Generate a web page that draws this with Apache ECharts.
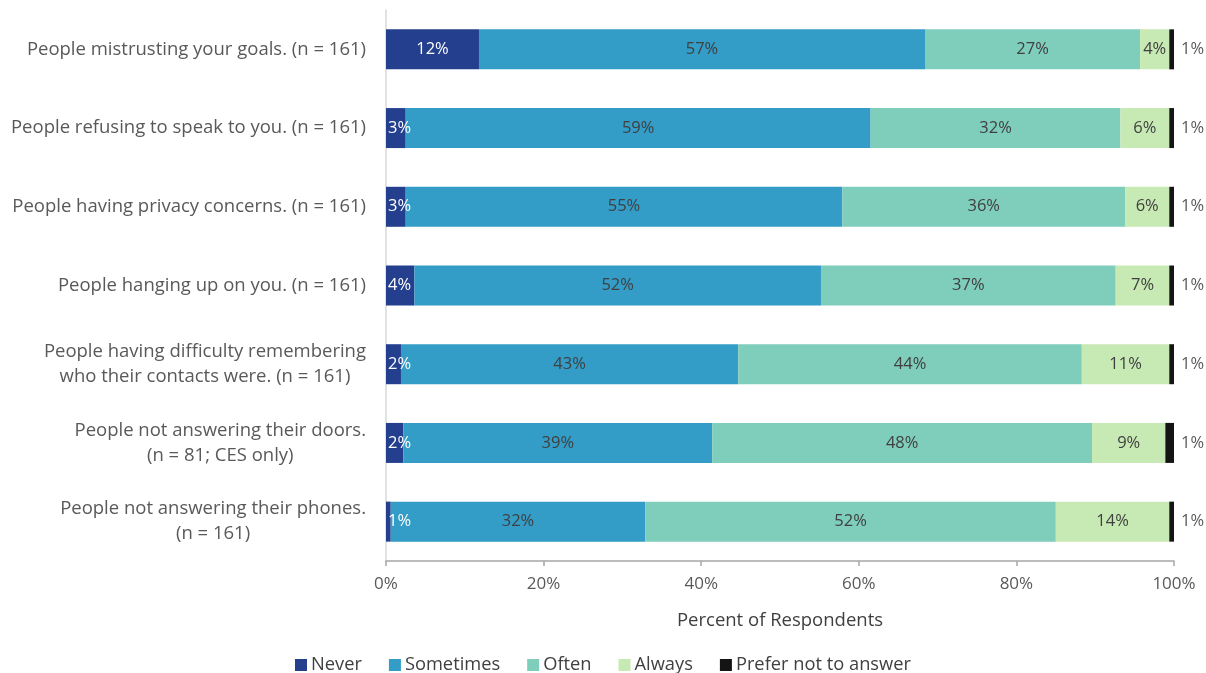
<!DOCTYPE html>
<html>
<head>
<meta charset="utf-8">
<title>Contact difficulties</title>
<script src="https://cdn.jsdelivr.net/npm/echarts@6/dist/echarts.min.js"></script>
<style>
  html, body { margin: 0; padding: 0; background: #ffffff; }
  #chart { width: 1206px; height: 673px; }
</style>
</head>
<body>
<div id="chart"></div>
<script>
// Survey items, top to bottom
const categories = [
  'People mistrusting your goals. (n = 161)',
  'People refusing to speak to you. (n = 161)',
  'People having privacy concerns. (n = 161)',
  'People hanging up on you. (n = 161)',
  'People having difficulty remembering\nwho their contacts were. (n = 161)',
  'People not answering their doors.\n(n = 81; CES only)',
  'People not answering their phones.\n(n = 161)'
];

// Percent of respondents per response option
const never     = [11.8, 2.5, 2.5, 3.6, 1.9, 2.2, 0.6];
const sometimes = [56.6, 59.0, 55.4, 51.6, 42.8, 39.2, 32.3];
const often     = [27.3, 31.7, 35.9, 37.4, 43.6, 48.2, 52.1];
const always    = [3.7, 6.2, 5.6, 6.8, 11.1, 9.3, 14.4];
const prefer    = [0.6, 0.6, 0.6, 0.6, 0.6, 1.1, 0.6];

const seriesNames = ['Never', 'Sometimes', 'Often', 'Always', 'Prefer not to answer'];
const xTicks = [0, 20, 40, 60, 80, 100];

const FONT = '"Open Sans", Lato, sans-serif';
const pct = p => Math.round(p.value) + '%';

function bar(name, data, color, label) {
  return {
    name: name,
    type: 'bar',
    stack: 'total',
    barWidth: 40,
    data: data,
    itemStyle: { color: color },
    label: Object.assign({
      show: true,
      position: 'inside',
      formatter: pct,
      fontFamily: FONT,
      fontSize: 16.5,
      color: '#404040'
    }, label || {})
  };
}

// Small "Never" shares start their label at the left edge of the bar
const neverData = never.map(v => ({
  value: v,
  label: { position: v < 5 ? 'insideLeft' : 'inside', distance: 2 }
}));

const chart = echarts.init(document.getElementById('chart'), null, { renderer: 'canvas' });

chart.setOption({
  animation: false,
  backgroundColor: '#ffffff',
  textStyle: { fontFamily: FONT },
  grid: { left: 386, right: 32, top: 10, bottom: 112, containLabel: false },
  legend: {
    data: seriesNames,
    top: 651,
    left: 'center',
    icon: 'rect',
    itemWidth: 12,
    itemHeight: 12,
    itemGap: 27,
    textStyle: { fontFamily: FONT, fontSize: 18.3, color: '#404040', padding: [0, 0, 0, -1] }
  },
  xAxis: {
    type: 'value',
    min: xTicks[0],
    max: xTicks[xTicks.length - 1],
    interval: xTicks[1] - xTicks[0],
    name: 'Percent of Respondents',
    nameLocation: 'middle',
    nameGap: 50,
    nameTextStyle: { fontFamily: FONT, fontSize: 18.5, color: '#404040' },
    axisLine: { show: true, lineStyle: { color: '#a6a6a6', width: 1.5 } },
    axisTick: { show: true, length: 5, lineStyle: { color: '#a6a6a6', width: 1.5 } },
    splitLine: { show: false },
    axisLabel: {
      formatter: v => v + '%',
      fontFamily: FONT,
      fontSize: 17,
      color: '#595959',
      margin: 15
    }
  },
  yAxis: {
    type: 'category',
    inverse: true,
    data: categories,
    axisLine: { show: true, lineStyle: { color: '#d9d9d9', width: 1.5 } },
    axisTick: { show: false },
    axisLabel: {
      margin: 20,
      align: 'right',
      fontFamily: FONT,
      fontSize: 18.5,
      color: '#595959',
      lineHeight: 25,
      formatter: v => v.split('\n').map(l => '{c|' + l + '}').join('\n'),
      rich: {
        c: { align: 'center', fontFamily: FONT, fontSize: 18.5, color: '#595959', lineHeight: 25 }
      }
    }
  },
  series: [
    bar('Never', neverData, '#233f8e', { color: '#ffffff' }),
    bar('Sometimes', sometimes, '#339cc7'),
    bar('Often', often, '#7fcdbb'),
    bar('Always', always, '#c7e9b4'),
    bar('Prefer not to answer', prefer, '#141414', { position: 'right', distance: 7, color: '#595959' })
  ]
});
</script>
</body>
</html>
